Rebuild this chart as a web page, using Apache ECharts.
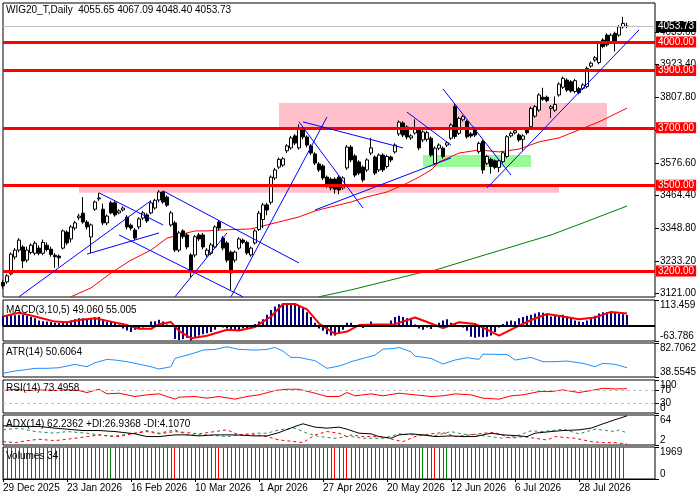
<!DOCTYPE html>
<html>
<head>
<meta charset="utf-8">
<title>WIG20_T Daily</title>
<script src="https://cdn.jsdelivr.net/npm/echarts@6.0.0/dist/echarts.min.js"></script>
<style>
  html, body { margin: 0; padding: 0; background: #fff; }
  #chart { width: 700px; height: 500px; }
</style>
</head>
<body>
<div id="chart"></div>
<script>
var tickLabels = ['29 Dec 2025', '23 Jan 2026', '16 Feb 2026', '10 Mar 2026', '1 Apr 2026',
                  '27 Apr 2026', '20 May 2026', '12 Jun 2026', '6 Jul 2026', '28 Jul 2026'];

var opens = [3160,3162,3190,3249,3273,3284,3238,3265,3262,3280,
  3262,3290,3276,3255,3252,3280,3336,3312,3350,3386,
  3402,3371,3319,3416,3452,3416,3368,3438,3438,3403,
  3413,3388,3360,3343,3354,3385,3396,3403,3420,3448,
  3476,3458,3361,3368,3273,3340,3326,3256,3256,3326,
  3326,3256,3262,3284,3371,3315,3298,3266,3238,3280,
  3308,3300,3256,3298,3345,3380,3431,3440,3525,3563,
  3570,3620,3630,3672,3630,3693,3668,3637,3609,3574,
  3567,3528,3521,3521,3528,3490,3560,3633,3602,3581,
  3563,3553,3612,3598,3553,3605,3565,3598,3616,3679,
  3717,3703,3665,3682,3693,3658,3660,3664,3576,3629,
  3629,3640,3664,3775,3681,3728,3722,3679,3698,3617,
  3652,3576,3590,3585,3562,3582,3600,3672,3683,3675,
  3660,3695,3704,3741,3762,3807,3807,3768,3762,3815,
  3842,3867,3861,3827,3837,3838,3844,3916,3937,3928,
  4007,4024,4001,4030,4024,4053,4055.65];

var closes = [3148,3183,3259,3273,3308,3235,3273,3290,3297,3262,
  3300,3275,3258,3250,3246,3340,3298,3354,3368,3392,
  3371,3354,3361,3441,3455,3368,3392,3403,3396,3410,
  3420,3354,3350,3315,3382,3403,3375,3438,3447,3476,
  3441,3430,3403,3273,3333,3320,3284,3203,3320,3312,
  3284,3273,3291,3354,3350,3280,3238,3193,3266,3312,
  3300,3263,3280,3340,3402,3431,3413,3528,3553,3590,
  3592,3637,3665,3647,3700,3668,3640,3612,3577,3553,
  3525,3497,3490,3486,3483,3525,3633,3588,3535,3542,
  3518,3588,3630,3542,3605,3553,3600,3588,3640,3720,
  3675,3668,3672,3700,3630,3686,3683,3605,3629,3640,
  3600,3648,3710,3670,3733,3739,3669,3672,3675,3646,
  3553,3600,3565,3562,3585,3613,3669,3681,3690,3658,
  3672,3683,3768,3774,3815,3800,3795,3774,3782,3853,
  3873,3832,3829,3865,3823,3850,3908,3926,3945,3995,
  3984,3990,4024,3995,4053,4065,4053.73];

var lows = [3138,3155,3185,3240,3265,3210,3230,3258,3255,3255,
  3255,3268,3250,3211,3215,3275,3290,3300,3342,3378,
  3365,3345,3263,3410,3445,3360,3360,3398,3390,3398,
  3408,3345,3342,3308,3346,3378,3368,3398,3414,3440,
  3435,3424,3355,3266,3266,3312,3276,3179,3248,3305,
  3276,3248,3255,3278,3342,3272,3230,3134,3230,3274,
  3294,3256,3250,3292,3340,3350,3395,3432,3518,3556,
  3564,3612,3624,3640,3624,3660,3632,3605,3570,3546,
  3518,3490,3482,3470,3468,3484,3553,3580,3528,3535,
  3510,3546,3605,3535,3546,3546,3558,3580,3610,3672,
  3668,3660,3658,3676,3622,3650,3652,3598,3570,3622,
  3593,3633,3658,3662,3675,3722,3662,3665,3668,3610,
  3540,3570,3540,3556,3545,3576,3594,3666,3677,3651,
  3620,3676,3698,3735,3756,3794,3789,3735,3756,3809,
  3836,3826,3823,3821,3817,3832,3838,3910,3931,3922,
  3978,3984,3995,3967,4018,4047,4048.40];

var highs = [3168,3190,3265,3280,3315,3290,3285,3296,3305,3290,
  3310,3300,3285,3262,3258,3345,3342,3360,3375,3400,
  3458,3378,3366,3446,3473,3435,3398,3445,3444,3416,
  3426,3395,3366,3350,3388,3410,3402,3445,3452,3482,
  3480,3464,3410,3375,3340,3346,3333,3262,3326,3333,
  3333,3280,3298,3360,3378,3322,3305,3272,3272,3318,
  3314,3306,3286,3346,3410,3438,3438,3534,3560,3596,
  3598,3643,3672,3678,3712,3700,3674,3643,3615,3580,
  3573,3534,3527,3527,3534,3531,3640,3640,3608,3587,
  3569,3594,3665,3604,3611,3611,3606,3604,3646,3726,
  3723,3709,3678,3730,3700,3692,3690,3670,3635,3646,
  3635,3654,3716,3785,3739,3745,3728,3685,3704,3652,
  3658,3606,3596,3590,3590,3619,3675,3687,3700,3681,
  3678,3701,3774,3780,3821,3840,3813,3780,3810,3859,
  3879,3873,3867,3871,3843,3856,3914,3932,3951,4001,
  4013,4030,4030,4036,4059,4088,4067.09];

// srednie kroczace (punkty: [nr swiecy, wartosc])
var maRed = [[17,3110],[22,3141],[27,3193],[32,3238],[37,3273],[41,3315],[44,3326],[48,3340],
  [51,3340],[54,3343],[62,3347],[68,3368],[74,3389],[78,3410],[82,3424],[87,3441],[91,3459],
  [96,3476],[100,3500],[104,3528],[107,3553],[109,3581],[114,3612],[119,3623],[124,3616],
  [129,3626],[134,3651],[139,3665],[144,3693],[149,3721],[156,3769]];
var maGreen = [[79,3110],[87,3134],[98,3172],[104,3193],[108,3203],[119,3250],[137,3326],
  [145,3368],[156,3427]];

var levels = [4000, 3900, 3700, 3500, 3200];
var lastPrice = 4053.73;
var priceTicks = [3121.00, 3233.20, 3348.80, 3464.40, 3576.60, 3692.20, 3807.80, 3923.40, 4035.60];

// prostokaty: [swieca od, cena, swieca do, cena]
var pinkZones = [[69, 3787, 151, 3700], [19, 3500, 139, 3473]];
var greenZones = [[105, 3605, 132, 3563]];

// linie trendu: [swieca1, cena1, swieca2, cena2]
var trendLines = [
  [4, 3110, 37, 3446], [24, 3473, 40, 3361], [21, 3259, 39, 3333], [29, 3326, 60, 3110],
  [40, 3480, 73.75, 3228], [42.5, 3110, 56.25, 3333], [56.5, 3110, 81, 3738],
  [74, 3721, 90, 3420], [75, 3721, 99.75, 3630], [78.25, 3413, 111.75, 3595],
  [101, 3755, 111.75, 3640], [110, 3836, 126.75, 3535], [121, 3490, 159, 4042]
];

var macdHist = [45,48,50,48,50, 50,45,40,35, 25,22,20,18, 15,14,15,18, 25,30,35,35,
  30,32,38,40, 25,20,18,15, 8,-10,-18, -25,-15,-10,-5, 5,20,22,28,20, 8,-2,
  -55,-60,-55,-50, -62,-50,-40, -35,-30,-25,-15, 5,-5,-10,-20, -15,-20,-10,-8,-5,
  10,20,30, 50,70,85,95,100, 100,98,95,90,80, 60,40,15, -10,-20,-35,-40,-40,
  -30,-15,15, 15,5,0, -8,5,20,10,2, 0,3,25,40,45, 40,35,30,8,-10,
  -15,-5,-12,5,15, 25,30,15,10,0, -5,-20,-45,-50,-45, -48,-45,-40,-25,-5,
  10,20,25,22,35, 40,45,50,55,60, 58,50,42,45,48, 50,42,35,25,20,
  18,25,35,45,55, 60,62,60,58,55,52,49.06];
var macdSignal = [[0,42],[4,58],[8,42],[13,20],[16,17],[19,27],[23,35],[27,20],[31,5],[34,-11],
  [37,-11],[39,9],[42,18],[44,-20],[47,-52],[51,-41],[56,-15],[59,-18],[63,-3],[67,42],
  [70,96],[73,96],[76,73],[79,12],[83,-33],[86,-23],[89,5],[93,8],[98,9],[103,38],[107,12],
  [110,-8],[114,17],[118,10],[120,-6],[124,-41],[128,-6],[132,27],[136,53],[140,42],
  [144,30],[148,38],[152,62],[156,55.005]];

var atr = [[0,43.3],[3,46.3],[5,47.6],[8,49.8],[11,49.8],[14,50.6],[16,52.8],[18,54.9],
  [21,51.9],[23,57.1],[26,61.4],[28,60.6],[31,58.4],[33,56.3],[37,51.9],[39,48.9],[42,51.9],
  [43,62.7],[46,67.0],[48,70.0],[50,73.5],[53,74.4],[56,77.8],[59,74.4],[63,73.5],[66,74.4],
  [68,76.9],[70,72.2],[72,64.0],[74,64.0],[78,59.7],[81,49.8],[84,52.8],[86,56.3],[87,58.4],
  [90,62.7],[93,67.0],[95,74.8],[98,75.7],[99,76.9],[102,71.3],[103,65.7],[107,62.7],
  [110,55.4],[113,60.6],[116,63.6],[119,61.4],[120,68.3],[124,67.9],[126,67.9],[128,60.6],
  [132,64.0],[135,58.4],[138,58.4],[141,59.3],[145,56.3],[148,51.9],[150,56.3],[153,55.0],
  [156,50.6064]];

var rsi = [[0,68],[3,72],[6,68],[9,70],[13,68],[16,70],[19,68],[21,62],[24,72],[26,58],
  [29,60],[33,50],[36,55],[39,58],[43,42],[44,48],[48,50],[51,45],[54,50],[58,42],[61,50],
  [64,55],[68,68],[71,72],[74,72],[78,60],[81,50],[84,50],[86,62],[88,52],[92,58],[95,52],
  [99,60],[103,55],[107,50],[110,52],[113,58],[117,55],[120,45],[124,42],[127,52],[130,55],
  [134,65],[137,65],[140,70],[144,62],[147,68],[150,75],[153,73],[156,73.4958]];

var adx = [[0,41.7],[4,40.3],[9,40.3],[13,36.8],[16,34.7],[20,31.9],[24,31.9],[28,29.8],
  [33,25],[36,19.4],[39,19.4],[43,22.9],[46,22.9],[49,20.8],[53,22.9],[58,22.9],[63,20.8],
  [66,20.8],[69,27.7],[73,40.3],[75,45.8],[78,38.9],[81,36.8],[84,38.9],[86,34.7],[87,31.9],
  [89,26.4],[92,25],[94,19.4],[97,15.9],[99,22.9],[102,25],[105,22.9],[108,19.4],[112,20.8],
  [115,19.4],[118,19.4],[122,26.4],[125,22.9],[128,21.5],[131,19.4],[133,26.4],[137,29.8],
  [140,31.9],[144,33.3],[147,36.8],[150,45.8],[153,54.2],[156,62.2362]];
var plusDI = [[0,33.3],[4,36.8],[8,29.8],[13,26.4],[16,29.8],[21,26.4],[27,19.4],[33,26.4],
  [36,31.9],[39,26.4],[43,33.3],[46,22.9],[51,22.9],[56,19.4],[59,22.9],[63,26.4],[66,26.4],
  [69,33.3],[73,36.8],[76,26.4],[79,19.4],[83,15.9],[86,19.4],[87,19.4],[90,15.9],[95,15.9],
  [99,25],[103,22.9],[108,21.5],[112,29.8],[115,24.3],[118,22.9],[122,19.4],[125,15.9],
  [128,19.4],[132,31.2],[135,29.8],[140,34.7],[144,25],[148,34.7],[153,29.8],[154,33.3],
  [156,26.9368]];
var minusDI = [[0,9],[3,6.9],[6,11],[9,13.8],[13,11],[18,15.9],[21,19.4],[24,22.9],[29,19.4],
  [33,26.4],[36,29.8],[39,25],[43,29.8],[46,27.7],[49,25],[53,29.8],[56,33.3],[59,22.9],
  [63,22.9],[66,19.4],[69,12.4],[73,9],[75,6.9],[78,22.9],[81,29.8],[84,26.4],[86,19.4],
  [87,22.9],[90,19.4],[95,19.4],[98,12.4],[100,9],[103,19.4],[107,25],[110,27.7],[113,19.4],
  [117,22.9],[120,26.4],[123,27.7],[127,15.9],[130,19.4],[133,15.9],[136,12.4],[138,19.4],
  [143,15.9],[147,9],[150,6.9],[153,6.9],[156,4.107]];

var volumes = [1905,1921,1934,1912,1926,1940,1951,1930,1944,1918,
  1937,1949,1925,1903,1928,1915,1933,1947,1958,1936,
  1920,1941,1927,1939,1952,1931,1943,1956,1962,1938,
  1950,1957,1929,1944,1953,1960,1937,1922,1946,1955,
  1931,1948,1957,1933,1945,1951,1928,1946,1934,1949,
  1955,1960,1965,1941,1924,1945,1952,1958,1935,1950,
  1930,1944,1954,1932,1917,1940,1950,1957,1962,1939,
  1951,1958,1934,1946,1953,1930,1945,1926,1912,1938,
  1924,1944,1952,1929,1947,1955,1931,1920,1943,1951,
  1928,1945,1927,1940,1953,1930,1944,1957,1962,1939,
  1922,1946,1956,1933,1949,1958,1935,1950,1929,1943,
  1955,1960,1937,1949,1926,1941,1952,1932,1945,1958,
  1934,1918,1942,1951,1957,1963,1940,1953,1930,1947,
  1956,1931,1945,1954,1961,1938,1950,1925,1942,1955,
  1930,1946,1958,1964,1941,1952,1932,1947,1926,1944,
  1953,1960,1969,1943,1957,1935,34];

////////////////////////////////////////

var FONT = 'Liberation Sans, Arial, sans-serif';
var SLOTS = 164;              // swiece + wolne miejsce po prawej
var last = closes.length - 1;

var cats = [];
for (var i = 0; i < SLOTS; i++) cats.push(String(i));

var candleData = opens.map(function (o, i) {
  return [o, closes[i], lows[i], highs[i]];
});

var volData = volumes.map(function (v, i) { return [i, v]; });

var panels = [
  { top: 3, height: 294 },
  { top: 300, height: 41 },
  { top: 343, height: 34 },
  { top: 380, height: 33 },
  { top: 415, height: 30 },
  { top: 447, height: 32 }
];

var grids = panels.map(function (p) {
  return {
    left: 3, width: 652, top: p.top, height: p.height,
    show: true, borderColor: '#000', borderWidth: 1, backgroundColor: '#fff'
  };
});

function tickShown(idx) {
  return idx % 16 === 0 && idx <= last;
}

var xAxes = panels.map(function (p, gi) {
  var isBottom = gi === panels.length - 1;
  return {
    type: 'category', gridIndex: gi, data: cats, boundaryGap: false,
    axisLine: { show: isBottom, lineStyle: { color: '#000' } },
    axisTick: { show: isBottom, interval: function (idx) { return tickShown(idx); },
                length: 3, lineStyle: { color: '#000' } },
    axisLabel: {
      show: isBottom, interval: function (idx) { return tickShown(idx); },
      formatter: function (v, idx) { return tickLabels[idx / 16] || ''; },
      align: 'left', color: '#000', fontSize: 10, fontFamily: FONT, margin: 4
    },
    splitLine: { show: false }
  };
});

// vMin / vMax: pionowe wyrownanie etykiety najnizszej / najwyzszej
function yAxisFor(gi, min, max, ticks, fmt, vMin, vMax) {
  return {
    type: 'value', gridIndex: gi, position: 'right', min: min, max: max,
    splitLine: { show: false },
    axisLine: { show: false },
    axisTick: { show: true, customValues: ticks, length: 4, inside: false,
                lineStyle: { color: '#000' } },
    axisLabel: {
      customValues: ticks, formatter: fmt, color: '#000', fontSize: 10,
      fontFamily: FONT, margin: 5, hideOverlap: false,
      showMinLabel: true, showMaxLabel: true,
      verticalAlign: 'middle',
      verticalAlignMinLabel: vMin || 'middle',
      verticalAlignMaxLabel: vMax || 'middle'
    }
  };
}

function plain(v) { return String(v); }

var yAxes = [
  yAxisFor(0, 3109.2, 4136.2, priceTicks, function (v) { return v.toFixed(2); }),
  yAxisFor(1, -63.786, 113.459, [-63.786, 0, 113.459],
    function (v) { return v === 0 ? '0.00' : v.toFixed(3); }, 'bottom', 'top'),
  yAxisFor(2, 38.5545, 82.7062, [38.5545, 82.7062], function (v) { return v.toFixed(4); }, 'bottom', 'top'),
  yAxisFor(3, 0, 100, [0], plain, 'bottom', 'bottom'),
  yAxisFor(4, 2, 64, [2, 64], plain, 'bottom', 'top'),
  yAxisFor(5, 0, 1969, [0, 1969], plain, 'bottom', 'top'),
  // RSI: etykiety nachodza na siebie, wiec kazda grupa ma wlasna os
  yAxisFor(3, 0, 100, [30, 70], plain, 'middle', 'middle'),
  yAxisFor(3, 0, 100, [100], plain, 'top', 'top')
];

function panelTitle(text, top) {
  return {
    text: text, left: 6, top: top, padding: 0,
    textStyle: { fontSize: 10, fontWeight: 'normal', color: '#000', fontFamily: FONT }
  };
}

var header = 'WIG20_T,Daily  ' + [opens[last], highs[last], lows[last], closes[last]]
  .map(function (v) { return v.toFixed(2); }).join(' ');

var zoneData = pinkZones.map(function (z) {
  return [{ coord: [z[0], z[1]], itemStyle: { color: '#ffc0cb' } }, { coord: [z[2], z[3]] }];
}).concat(greenZones.map(function (z) {
  return [{ coord: [z[0], z[1]], itemStyle: { color: '#98fb98' } }, { coord: [z[2], z[3]] }];
}));

var levelData = levels.map(function (v) {
  return {
    yAxis: v,
    lineStyle: { color: '#ff0000', width: 3, type: 'solid' },
    label: { backgroundColor: '#ff0000' }
  };
});
levelData.push({
  yAxis: lastPrice,
  lineStyle: { color: '#c0c0c0', width: 1, type: 'solid' },
  label: { backgroundColor: '#000' }
});

var trendData = trendLines.map(function (t) {
  return [{ coord: [t[0], t[1]] }, { coord: [t[2], t[3]] }];
});

function sparseLine(gi, data, color, width, dashed, z) {
  return {
    type: 'line', xAxisIndex: gi, yAxisIndex: gi, data: data,
    symbol: 'none', showSymbol: false, silent: true, z: z || 3,
    lineStyle: { color: color, width: width, type: dashed ? [3, 3] : 'solid' }
  };
}

// slupki wolumenu: 1px, zielony gdy wolumen rosnie, czerwony gdy spada
function renderVolume(params, api) {
  var i = api.value(0);
  var top = api.coord([i, api.value(1)]);
  var base = api.coord([i, 0]);
  var up = i === 0 || volumes[i] > volumes[i - 1];
  return {
    type: 'rect',
    shape: { x: Math.floor(top[0]), y: top[1], width: 1, height: base[1] - top[1] },
    style: { fill: up ? '#008000' : '#ff0000' }
  };
}

var myChart = echarts.init(document.getElementById('chart'));

var option = {
  animation: false,
  backgroundColor: '#fff',
  title: [
    panelTitle(header, 5),
    panelTitle('MACD(3,10,5) ' + macdHist[last].toFixed(3) + ' ' + macdSignal[macdSignal.length - 1][1].toFixed(3), 305),
    panelTitle('ATR(14) ' + atr[atr.length - 1][1].toFixed(4), 347),
    panelTitle('RSI(14) ' + rsi[rsi.length - 1][1].toFixed(4), 383),
    panelTitle('ADX(14) ' + adx[adx.length - 1][1].toFixed(4) + ' +DI:' + plusDI[plusDI.length - 1][1].toFixed(4) +
      ' -DI:' + minusDI[minusDI.length - 1][1].toFixed(4), 419),
    panelTitle('Volumes ' + volumes[last], 451)
  ],
  grid: grids,
  xAxis: xAxes,
  yAxis: yAxes,
  series: [
    // tlo: prostokaty
    {
      type: 'line', xAxisIndex: 0, yAxisIndex: 0, data: [], z: 1, silent: true,
      markArea: { silent: true, data: zoneData }
    },
    sparseLine(0, maRed, '#ff0000', 1, false, 2),
    sparseLine(0, maGreen, '#008000', 1, false, 2),
    {
      type: 'candlestick', xAxisIndex: 0, yAxisIndex: 0, data: candleData, z: 3,
      barWidth: 3, silent: true,
      itemStyle: { color: '#fff', color0: '#000', borderColor: '#000', borderColor0: '#000', borderWidth: 1 }
    },
    // poziomy i linie trendu
    {
      type: 'line', xAxisIndex: 0, yAxisIndex: 0, data: [], z: 4, silent: true, clip: false,
      markLine: {
        silent: true, symbol: ['none', 'none'], animation: false,
        label: {
          show: true, position: 'end', distance: 1, color: '#fff', fontSize: 10, fontFamily: FONT,
          padding: [1, 2, 0, 2],
          formatter: function (p) { return p.value.toFixed(2); }
        },
        data: levelData
      }
    },
    {
      type: 'line', xAxisIndex: 0, yAxisIndex: 0, data: [], z: 4, silent: true,
      markLine: {
        silent: true, symbol: ['none', 'none'], animation: false,
        label: { show: false },
        lineStyle: { color: '#0000ff', width: 1, type: 'solid' },
        data: trendData
      }
    },
    // MACD
    {
      type: 'bar', xAxisIndex: 1, yAxisIndex: 1, data: macdHist, barWidth: 2, silent: true,
      itemStyle: { color: '#000080' },
      markLine: {
        silent: true, symbol: ['none', 'none'], label: { show: false },
        lineStyle: { color: '#000', width: 2, type: 'solid' },
        data: [{ yAxis: 0 }]
      }
    },
    sparseLine(1, macdSignal, '#ff0000', 2, false, 4),
    // ATR
    sparseLine(2, atr, '#1e90ff', 1, false),
    // RSI
    {
      type: 'line', xAxisIndex: 3, yAxisIndex: 3, data: rsi, symbol: 'none', silent: true,
      lineStyle: { color: '#ff0000', width: 1 },
      markLine: {
        silent: true, symbol: ['none', 'none'], label: { show: false },
        lineStyle: { color: '#c0c0c0', width: 1, type: [3, 3] },
        data: [{ yAxis: 70 }, { yAxis: 30 }]
      }
    },
    // ADX
    sparseLine(4, plusDI, '#2e8b57', 1, true),
    sparseLine(4, minusDI, '#ff0000', 1, true),
    sparseLine(4, adx, '#000', 1, false, 4),
    // wolumen
    {
      type: 'custom', xAxisIndex: 5, yAxisIndex: 5, data: volData, silent: true,
      renderItem: renderVolume, encode: { x: 0, y: 1 }
    }
  ]
};

myChart.setOption(option);
</script>
</body>
</html>
